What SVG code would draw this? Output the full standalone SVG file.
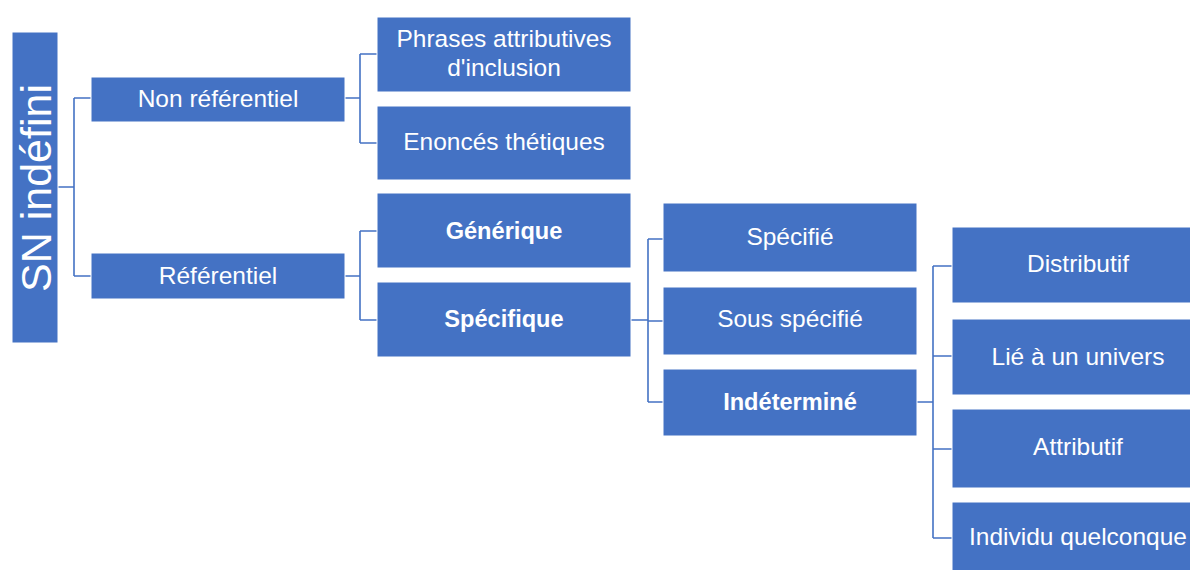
<svg xmlns="http://www.w3.org/2000/svg" width="1190" height="570" viewBox="0 0 1190 570">
<style>
.box{fill:#4472C4;stroke:#ffffff;stroke-width:1}
.t{fill:#ffffff;font-family:"Liberation Sans",Arial,sans-serif;font-size:24.5px;text-anchor:middle}
.b{font-weight:bold;font-size:23.6px}
.c{fill:none;stroke:#4472C4;stroke-width:1.6}
</style>
<rect width="1190" height="570" fill="#ffffff"/>
<g id="connectors">
<path class="c" d="M58,187 H74 M74,98 V276 M74,98 H91 M74,276 H91"/>
<path class="c" d="M345,98 H360 M360,54 V143 M360,54 H377 M360,143 H377"/>
<path class="c" d="M345,276 H360 M360,231 V320 M360,231 H377 M360,320 H377"/>
<path class="c" d="M631,320 H648 M648,239 V402 M648,239 H663 M648,321 H663 M648,402 H663"/>
<path class="c" d="M917,402 H933 M933,266 V538 M933,266 H952 M933,356 H952 M933,449 H952 M933,538 H952"/>
</g>
<g id="n-sn"><rect class="box" x="12" y="32" width="46" height="311"/><text class="t" transform="translate(51,188) rotate(-90)" style="font-size:43px">SN indéfini</text></g>
<g id="n-nonref"><rect class="box" x="91" y="77" width="254" height="45"/><text class="t" x="218" y="107">Non référentiel</text></g>
<g id="n-ref"><rect class="box" x="91" y="253" width="254" height="46"/><text class="t" x="218" y="284">Référentiel</text></g>
<g id="n-phrases"><rect class="box" x="377" y="17" width="254" height="75"/><text class="t" x="504" y="47">Phrases attributives</text><text class="t" x="504" y="76">d'inclusion</text></g>
<g id="n-enonces"><rect class="box" x="377" y="106" width="254" height="74"/><text class="t" x="504" y="150">Enoncés thétiques</text></g>
<g id="n-generique"><rect class="box" x="377" y="193" width="254" height="75"/><text class="t b" x="504" y="239">Générique</text></g>
<g id="n-specifique"><rect class="box" x="377" y="282" width="254" height="75"/><text class="t b" x="504" y="327">Spécifique</text></g>
<g id="n-specifie"><rect class="box" x="663" y="203" width="254" height="69"/><text class="t" x="790" y="245">Spécifié</text></g>
<g id="n-sousspecifie"><rect class="box" x="663" y="287" width="254" height="68"/><text class="t" x="790" y="327">Sous spécifié</text></g>
<g id="n-indetermine"><rect class="box" x="663" y="369" width="254" height="67"/><text class="t b" x="790" y="410">Indéterminé</text></g>
<g id="n-distributif"><rect class="box" x="952" y="227" width="254" height="76"/><text class="t" x="1078" y="272">Distributif</text></g>
<g id="n-lie"><rect class="box" x="952" y="319" width="254" height="76"/><text class="t" x="1078" y="365">Lié à un univers</text></g>
<g id="n-attributif"><rect class="box" x="952" y="409" width="254" height="79"/><text class="t" x="1078" y="455">Attributif</text></g>
<g id="n-individu"><rect class="box" x="952" y="502" width="254" height="76"/><text class="t" x="1078" y="545">Individu quelconque</text></g>
</svg>
